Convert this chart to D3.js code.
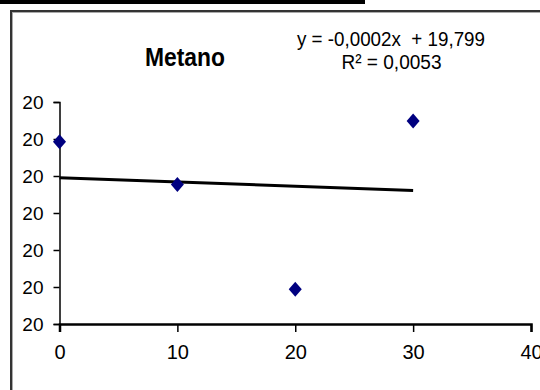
<!DOCTYPE html>
<html>
<head>
<meta charset="utf-8">
<script src="https://cdn.jsdelivr.net/npm/d3@7"></script>
<style>
  html, body { margin: 0; padding: 0; background: #fff; overflow: hidden; }
  svg { display: block; }
  text { font-family: "Liberation Sans", Arial, sans-serif; fill: #000; }
</style>
</head>
<body>
<svg id="chart" width="540" height="390"></svg>
<script>
// ---- data ----
const title = "Metano";
const xValues = [0, 10, 20, 30];
const yValues = [19.8185, 19.7954, 19.7388, 19.8297];
const xTicks = [0, 10, 20, 30, 40];
const yTicks = [19.72, 19.74, 19.76, 19.78, 19.80, 19.82, 19.84];
const equationText = "y = -0,0002x  + 19,799";
const r2Text = "R\u00B2 = 0,0053";

const svg = d3.select("#chart");

// frame decorations
svg.append("rect").attr("x", 0).attr("y", 0).attr("width", 365).attr("height", 4).attr("fill", "#000");
svg.append("rect").attr("x", 11).attr("y", 11).attr("width", 700).attr("height", 700)
  .attr("fill", "none").attr("stroke", "#333").attr("stroke-width", 2);
svg.append("rect").attr("x", 12.5).attr("y", 12.5).attr("width", 700).attr("height", 700)
  .attr("fill", "none").attr("stroke", "#aaa").attr("stroke-width", 1);

const x = d3.scaleLinear().domain([0, 40]).range([59.5, 531]);
const y = d3.scaleLinear().domain([19.72, 19.84]).range([324, 102]);

// y axis
const yAxis = svg.append("g").attr("transform", "translate(59.5,0)")
  .call(d3.axisLeft(y).tickValues(yTicks).tickFormat(d3.format(".0f")).tickSize(6).tickPadding(10));
yAxis.select(".domain").attr("stroke", "#000").attr("stroke-width", 1.5);
yAxis.selectAll(".tick line").attr("stroke", "#000").attr("stroke-width", 1.5);
yAxis.selectAll(".tick text").attr("font-size", 19).attr("font-family", "Liberation Sans, Arial, sans-serif")
  .attr("fill", "#000").attr("dy", "0.36em");

// x axis
const xAxis = svg.append("g").attr("transform", "translate(0,324)")
  .call(d3.axisBottom(x).tickValues(xTicks).tickFormat(d3.format("d")).tickSize(8).tickPadding(13));
xAxis.select(".domain").attr("stroke", "#000").attr("stroke-width", 2.5);
xAxis.selectAll(".tick line").attr("stroke", "#000").attr("stroke-width", 1.5);
xAxis.selectAll(".tick text").attr("font-size", 20).attr("font-family", "Liberation Sans, Arial, sans-serif")
  .attr("fill", "#000");

// trendline (least squares from the data)
const n = xValues.length;
const mx = d3.mean(xValues), my = d3.mean(yValues);
let sxy = 0, sxx = 0;
for (let i = 0; i < n; i++) { sxy += (xValues[i]-mx)*(yValues[i]-my); sxx += (xValues[i]-mx)**2; }
const slope = sxy / sxx, intercept = my - slope * mx;
const xr = d3.extent(xValues);
svg.append("line")
  .attr("x1", x(xr[0])).attr("y1", y(intercept + slope*xr[0]))
  .attr("x2", x(xr[1])).attr("y2", y(intercept + slope*xr[1]))
  .attr("stroke", "#000").attr("stroke-width", 3);

// points (diamonds)
const pts = xValues.map((v, i) => [v, yValues[i]]);
svg.selectAll("path.pt").data(pts).enter().append("path").attr("class", "pt")
  .attr("d", d => {
    const cx = x(d[0]), cy = y(d[1]);
    return `M${cx},${cy-7.5}L${cx+6.5},${cy}L${cx},${cy+7.5}L${cx-6.5},${cy}Z`;
  })
  .attr("fill", "#000080");

// title
svg.append("text").attr("x", 185).attr("y", 66).attr("text-anchor", "middle")
  .attr("font-size", 26).attr("font-weight", "bold")
  .attr("textLength", 80).attr("lengthAdjust", "spacingAndGlyphs")
  .text(title);

// equation
svg.append("text").attr("x", 391).attr("y", 46).attr("text-anchor", "middle")
  .attr("font-size", 20).attr("xml:space", "preserve").style("white-space", "pre")
  .attr("textLength", 188).attr("lengthAdjust", "spacingAndGlyphs")
  .text(equationText);
svg.append("text").attr("x", 391.5).attr("y", 69).attr("text-anchor", "middle")
  .attr("font-size", 20).attr("textLength", 100).attr("lengthAdjust", "spacingAndGlyphs")
  .text(r2Text);
</script>
</body>
</html>
